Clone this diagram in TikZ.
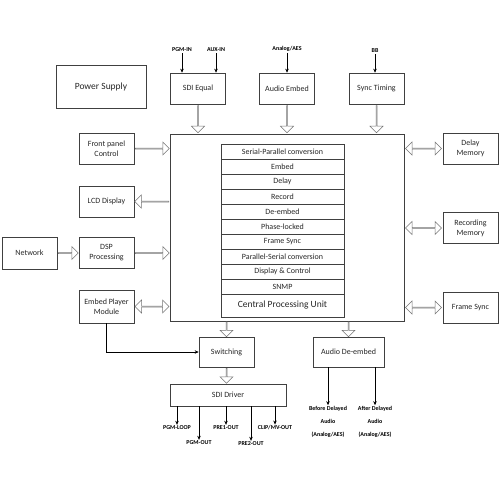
\documentclass[tikz,border=0pt]{standalone}
\usepackage{fontspec}
\setmainfont{Carlito}
\usetikzlibrary{arrows.meta,shapes.arrows,calc}

\tikzset{
  blk/.style={draw=black!75, line width=0.6pt, minimum width=55, minimum height=31,
    inner sep=1pt, align=center, text=black!85, font=\fontsize{8}{10}\selectfont},
  rowbox/.style={draw=black!75, line width=0.6pt, minimum width=123, minimum height=15,
    inner sep=0pt, text=black!85, font=\fontsize{8}{9}\selectfont},
  fat/.style={draw=black!55, line width=0.5pt, single arrow, minimum width=13pt,
    single arrow head extend=3pt, inner sep=0pt},
  fatboth/.style={draw=black!55, line width=0.5pt, double arrow, minimum width=13pt,
    double arrow head extend=3pt, inner sep=0pt},
  sig/.style={-{Stealth[length=4pt,width=3.5pt]}, line width=0.6pt},
  tag/.style={inner sep=1pt, align=center, font=\fontsize{6}{13}\selectfont\bfseries}
}

\begin{document}
\begin{tikzpicture}[x=1pt, y=-1pt]
\useasboundingbox (0,0) rectangle (500,500);

% top row
\node[blk, minimum width=90, minimum height=43, font=\fontsize{9.5}{11}\selectfont] (power) at (101,86.5) {Power Supply};
\node[blk] (sdieq) at (198,88.5) {SDI Equal};
\node[blk] (aemb) at (287,88.5) {Audio Embed};
\node[blk] (sync) at (376.5,88.5) {Sync Timing};

\node[tag] (pgmin) at (182,50) {PGM-IN};
\node[tag] (auxin) at (216,50) {AUX-IN};
\node[tag] (anain) at (287,49) {Analog/AES};
\node[tag] (bb) at (375,51) {BB};
\draw[sig] (pgmin) -- (pgmin|-sdieq.north);
\draw[sig] (auxin) -- (auxin|-sdieq.north);
\draw[sig] (anain) -- (anain|-aemb.north);
\draw[sig] (bb) -- (bb|-sync.north);

% central unit
\node[blk, minimum width=234, minimum height=187] (cpu) at (287,227.5) {};
\foreach \t [count=\i] in {Serial-Parallel conversion,Embed,Delay,Record,De-embed,
    Phase-locked,Frame Sync,Parallel-Serial conversion,Display \& Control,SNMP}
  \node[rowbox] (row\i) at (282.5,136.5+15*\i) {\t};
\node[rowbox, minimum height=23, font=\fontsize{9.5}{11}\selectfont] (row11) at (282.5,305.5) {Central Processing Unit};

% left column
\node[blk] (front) at (106.5,148.5) {Front panel\\Control};
\node[blk] (lcd) at (106.5,201.5) {LCD Display};
\node[blk] (dsp) at (106.5,253) {DSP\\Processing};
\node[blk, minimum height=33] (embp) at (106.5,306.5) {Embed Player\\Module};
\node[blk, minimum height=32] (net) at (29.5,253) {Network};

% right column
\node[blk] (dmem) at (470.5,148.5) {Delay\\Memory};
\node[blk] (rmem) at (470.5,228) {Recording\\Memory};
\node[blk] (fsync) at (470.5,307.5) {Frame Sync};

% bottom
\node[blk, minimum height=30] (sw) at (226.5,352) {Switching};
\node[blk, minimum width=71, minimum height=30] (adeemb) at (348.5,352) {Audio De-embed};
\node[blk, minimum width=116, minimum height=22] (drv) at (228,395) {SDI Driver};

% hollow arrows
\node[fat, rotate=-90, minimum height=27] (a1) at ($(sdieq.south)!.5!(sdieq.south|-cpu.north)$) {};
\node[fat, rotate=-90, minimum height=27] (a2) at ($(aemb.south)!.5!(aemb.south|-cpu.north)$) {};
\node[fat, rotate=-90, minimum height=27] (a3) at ($(sync.south)!.5!(sync.south|-cpu.north)$) {};
\node[fat, rotate=-90, minimum height=15] (a4) at ($(sw.north)!.5!(sw.north|-cpu.south)$) {};
\node[fat, rotate=-90, minimum height=15] (a5) at ($(adeemb.north)!.5!(adeemb.north|-cpu.south)$) {};
\node[fat, rotate=-90, minimum height=15] (a6) at ($(sw.south)!.5!(sw.south|-drv.north)$) {};
\node[fat, minimum height=34] (a7) at ($(front.east)!.5!(front.east-|cpu.west)$) {};
\node[fat, rotate=180, minimum height=34] (a8) at ($(lcd.east)!.5!(lcd.east-|cpu.west)$) {};
\node[fat, minimum height=34] (a9) at ($(dsp.east)!.5!(dsp.east-|cpu.west)$) {};
\node[fatboth, minimum height=34] (a10) at ($(embp.east)!.5!(embp.east-|cpu.west)$) {};
\node[fat, minimum height=20] (a11) at ($(net.east)!.5!(dsp.west)$) {};
\node[fatboth, minimum height=36] (a12) at ($(dmem.west)!.5!(dmem.west-|cpu.east)$) {};
\node[fatboth, minimum height=36] (a13) at ($(rmem.west)!.5!(rmem.west-|cpu.east)$) {};
\node[fatboth, minimum height=36] (a14) at ($(fsync.west)!.5!(fsync.west-|cpu.east)$) {};

\draw[sig] (embp.south) |- (sw.west);

% outputs
\node[tag] (lp) at (177,428) {PGM-LOOP};
\node[tag] (po) at (199,443) {PGM-OUT};
\node[tag] (p1) at (226,428) {PRE1-OUT};
\node[tag] (p2) at (251,444) {PRE2-OUT};
\node[tag] (cm) at (275,428) {CLIP/MV-OUT};
\draw[sig] (drv.south-|lp) -- (lp);
\draw[sig] (drv.south-|po) -- (po);
\draw[sig] (drv.south-|p1) -- (p1);
\draw[sig] (drv.south-|p2) -- (p2);
\draw[sig] (drv.south-|cm) -- (cm);

\node[tag] (bef) at (328,422) {Before Delayed\\Audio\\(Analog/AES)};
\node[tag] (aft) at (375,422) {After Delayed\\Audio\\(Analog/AES)};
\draw[sig] (adeemb.south-|bef) -- (bef);
\draw[sig] (adeemb.south-|aft) -- (aft);
\end{tikzpicture}
\end{document}
